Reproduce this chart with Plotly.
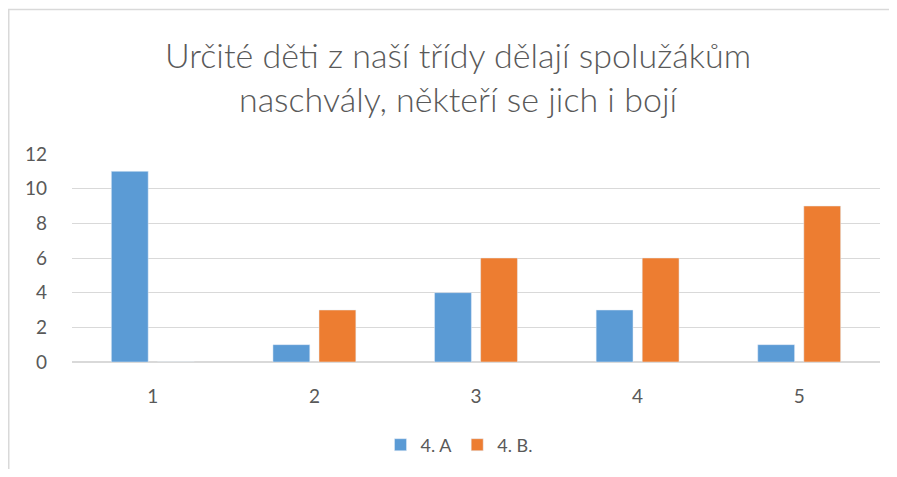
import plotly.graph_objects as go

categories = ["1", "2", "3", "4", "5"]
series_a = [11, 1, 4, 3, 1]
series_b = [0, 3, 6, 6, 9]
name_a = "4. A"
name_b = "4. B."
title_text = "Určité děti z naší třídy dělají spolužákům<br>naschvály, někteří se jich i bojí"
y_ticks = [0, 2, 4, 6, 8, 10, 12]

# page body has an 8px margin; figure coordinates = page coordinates - 8
OFF = 8
W, H = 897 - 2 * OFF, 477 - 2 * OFF
L = 72 - OFF
T = 154 - OFF
plot_right = 880 - OFF
plot_bottom = 362 - OFF
R = W - plot_right
B = H - plot_bottom
pw, ph = W - L - R, H - T - B

def px_x(p):
    return (p - OFF - L) / pw

def px_y(p):
    return (H - B - (p - OFF)) / ph

font = "Lato, Open Sans, sans-serif"
grey = "#595959"

fig = go.Figure()
fig.add_bar(x=categories, y=series_a, name=name_a, marker_color="#5B9BD5")
fig.add_bar(x=categories, y=series_b, name=name_b, marker_color="#ED7D31")

fig.update_layout(
    width=W, height=H,
    margin=dict(l=L, r=R, t=T, b=B, autoexpand=False),
    paper_bgcolor="white", plot_bgcolor="white",
    barmode="group", bargap=0.43, bargroupgap=0.2,
    font=dict(family=font, color=grey, size=18),
    title=dict(text=title_text, x=(458 - OFF) / W, xanchor="center", y=1 - (68 - OFF) / H, yanchor="middle",
               font=dict(size=34, color=grey, family=font, weight=300)),
    showlegend=True,
    legend=dict(orientation="h", xref="container", yref="container",
                x=(459 - OFF) / W, xanchor="center", y=1 - (445 - OFF) / H, yanchor="middle",
                font=dict(size=18, color=grey), itemwidth=30, traceorder="normal"),
    xaxis=dict(type="category", showgrid=False, showline=False, ticks="", zeroline=False,
               ticklabelstandoff=21, tickfont=dict(size=19, color=grey)),
    yaxis=dict(range=[0, 12], tickvals=y_ticks, showgrid=True, gridcolor="#d9d9d9", gridwidth=1,
               zeroline=True, zerolinecolor="#d9d9d9", zerolinewidth=2, showline=False, ticks="",
               ticklabelstandoff=24, tickfont=dict(size=19, color=grey)),
    shapes=[
        dict(type="line", xref="paper", yref="paper", x0=px_x(8), x1=px_x(897), y0=px_y(9.5), y1=px_y(9.5),
             line=dict(color="#d9d9d9", width=1.5)),
        dict(type="line", xref="paper", yref="paper", x0=px_x(8.75), x1=px_x(8.75), y0=px_y(9), y1=px_y(477),
             line=dict(color="#d9d9d9", width=1.5)),
    ],
)

fig.write_html("out.html")
